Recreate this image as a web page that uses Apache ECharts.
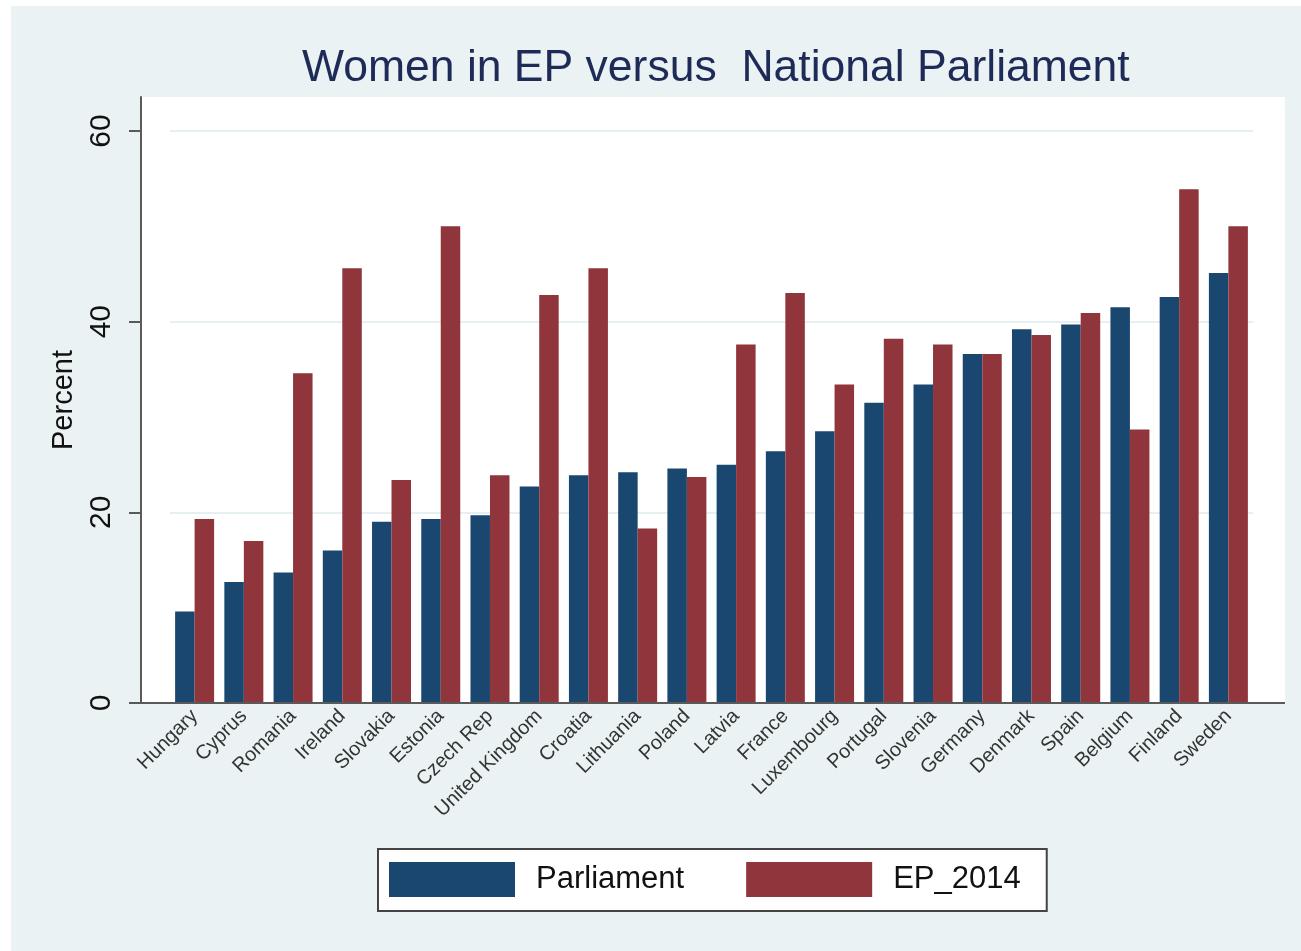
<!DOCTYPE html>
<html lang="en">

<head>
    <meta charset="UTF-8">
    <title>Women in EP versus National Parliament</title>
    <style type="text/css">
        html, body {
            margin: 0;
            padding: 0;
            background: #ffffff;
        }

        #main {
            width: 1301px;
            height: 951px;
        }
    </style>
</head>

<body>
    <div id="main"></div>
    <script src="https://cdn.jsdelivr.net/npm/echarts@6/dist/echarts.min.js"></script>
    <script type="text/javascript">
        // countries, sorted by share of women in national parliament
        var countries = ['Hungary', 'Cyprus', 'Romania', 'Ireland', 'Slovakia', 'Estonia', 'Czech Rep',
            'United Kingdom', 'Croatia', 'Lithuania', 'Poland', 'Latvia', 'France', 'Luxembourg',
            'Portugal', 'Slovenia', 'Germany', 'Denmark', 'Spain', 'Belgium', 'Finland', 'Sweden'];
        var parliament = [9.6, 12.7, 13.7, 16.0, 19.0, 19.3, 19.7, 22.7, 23.9, 24.2, 24.6,
            25.0, 26.4, 28.5, 31.5, 33.4, 36.6, 39.2, 39.7, 41.5, 42.6, 45.1];
        var ep2014 = [19.3, 17.0, 34.6, 45.6, 23.4, 50.0, 23.9, 42.8, 45.6, 18.3, 23.7,
            37.6, 43.0, 33.4, 38.2, 37.6, 36.6, 38.6, 40.9, 28.7, 53.9, 50.0];
        var yTicks = [0, 20, 40, 60];

        var blue = '#1a476f';
        var red = '#90353b';
        var axisGrey = '#5a5a5a';

        var myChart = echarts.init(document.getElementById('main'));

        var option = {
            backgroundColor: '#ffffff',
            animation: false,
            title: {
                text: 'Women in EP versus  National Parliament',
                left: 302,
                top: 46,
                padding: 0,
                textStyle: {
                    color: '#1e2b58',
                    fontFamily: 'Liberation Sans',
                    fontWeight: 'normal',
                    fontSize: 44.5
                }
            },
            // stata style: light outer area, white plot region
            graphic: [
                {
                    type: 'rect',
                    z: -100,
                    shape: { x: 11, y: 6, width: 1290, height: 945 },
                    style: { fill: '#eaf2f3' }
                },
                {
                    type: 'rect',
                    z: -90,
                    shape: { x: 142, y: 97, width: 1143, height: 606 },
                    style: { fill: '#ffffff' }
                },
                {
                    type: 'line',
                    z: 5,
                    shape: { x1: 140, y1: 703, x2: 1285, y2: 703 },
                    style: { stroke: axisGrey, lineWidth: 2 }
                }
            ],
            legend: {
                data: ['Parliament', 'EP_2014'],
                left: 378,
                top: 849,
                orient: 'horizontal',
                icon: 'rect',
                itemWidth: 126,
                itemHeight: 35,
                itemGap: 62,
                padding: [13, 26, 14, 11],
                backgroundColor: '#ffffff',
                borderColor: '#444444',
                borderWidth: 2,
                borderRadius: 0,
                textStyle: {
                    color: '#111111',
                    fontFamily: 'Liberation Sans',
                    fontSize: 31,
                    padding: [0, 0, 0, 16]
                }
            },
            grid: {
                left: 170,
                right: 48,
                top: 97,
                bottom: 248
            },
            xAxis: {
                type: 'category',
                data: countries,
                axisLine: { show: false },
                axisTick: { show: false },
                axisLabel: {
                    interval: 0,
                    rotate: 45,
                    margin: 10,
                    color: '#333333',
                    fontFamily: 'Liberation Sans',
                    fontSize: 20
                }
            },
            yAxis: {
                type: 'value',
                min: 0,
                max: 60 * 606 / 572,
                interval: 20,
                offset: 29,
                name: 'Percent',
                nameLocation: 'middle',
                nameRotate: 90,
                nameGap: 63,
                nameTextStyle: {
                    color: '#111111',
                    fontFamily: 'Liberation Sans',
                    fontSize: 29
                },
                axisLine: { show: true, lineStyle: { color: axisGrey, width: 2 } },
                axisTick: {
                    show: true,
                    length: 12,
                    customValues: yTicks,
                    lineStyle: { color: axisGrey, width: 2 }
                },
                axisLabel: {
                    rotate: 90,
                    margin: 24,
                    customValues: yTicks,
                    color: '#111111',
                    fontFamily: 'Liberation Sans',
                    fontSize: 30
                },
                splitLine: {
                    show: true,
                    lineStyle: { color: '#e6eff1', width: 2 }
                }
            },
            series: [
                {
                    name: 'Parliament',
                    type: 'bar',
                    data: parliament,
                    barGap: '0%',
                    barCategoryGap: '20.8%',
                    itemStyle: { color: blue }
                },
                {
                    name: 'EP_2014',
                    type: 'bar',
                    data: ep2014,
                    itemStyle: { color: red }
                }
            ]
        };

        myChart.setOption(option);
    </script>
</body>

</html>
